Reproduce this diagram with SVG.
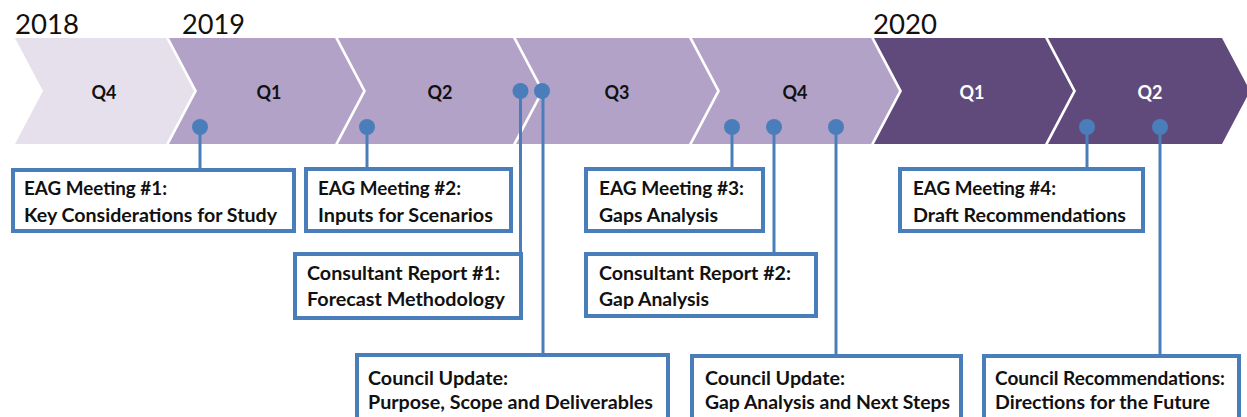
<svg xmlns="http://www.w3.org/2000/svg" width="1247" height="417" viewBox="0 0 1247 417">
<style>
.year{font-family:Lato,"Liberation Sans",sans-serif;font-size:26px;fill:#111}
.q{font-family:Lato,"Liberation Sans",sans-serif;font-size:18px;font-weight:bold;text-anchor:middle}
.qd{fill:#111}
.ql{fill:#fff}
.c18{fill:#E6E0EC}
.c19{fill:#B3A2C7}
.c20{fill:#604A7B}
.box{fill:#fff;stroke:#4A7EBB;stroke-width:4}
.lbl{font-family:Lato,"Liberation Sans",sans-serif;font-size:18.5px;font-weight:bold;fill:#111}
.conn line{stroke:#4A7EBB;stroke-width:3}
.conn circle{fill:#4A7EBB}
</style>
<rect width="1247" height="417" fill="#fff"/>
<g id="timeline">
  <polygon class="c18" points="15,38 166,38 194,91 166,144 15,144 43,91"/>
  <polygon class="c19" points="169,38 335,38 363,91 335,144 169,144 197,91"/>
  <polygon class="c19" points="338,38 513,38 541,91 513,144 338,144 366,91"/>
  <polygon class="c19" points="516,38 689,38 717,91 689,144 516,144 544,91"/>
  <polygon class="c19" points="692,38 871,38 899,91 871,144 692,144 720,91"/>
  <polygon class="c20" points="874,38 1045,38 1073,91 1045,144 874,144 902,91"/>
  <polygon class="c20" points="1048,38 1222,38 1250,91 1222,144 1048,144 1076,91"/>
  <text class="q qd" x="104" y="99">Q4</text>
  <text class="q qd" x="269" y="99">Q1</text>
  <text class="q qd" x="440" y="99">Q2</text>
  <text class="q qd" x="617" y="99">Q3</text>
  <text class="q qd" x="795" y="99">Q4</text>
  <text class="q ql" x="972" y="99">Q1</text>
  <text class="q ql" x="1150" y="99">Q2</text>
</g>
<g id="years">
  <text class="year" x="15" y="34" textLength="64" lengthAdjust="spacingAndGlyphs">2018</text>
  <text class="year" x="182" y="34" textLength="63" lengthAdjust="spacingAndGlyphs">2019</text>
  <text class="year" x="873" y="34" textLength="64" lengthAdjust="spacingAndGlyphs">2020</text>
</g>
<g id="connectors" class="conn">
  <line x1="200" y1="127" x2="200" y2="169"/>
  <line x1="367" y1="127" x2="367" y2="169"/>
  <line x1="520.5" y1="91" x2="520.5" y2="254"/>
  <line x1="543" y1="91" x2="543" y2="355"/>
  <line x1="732" y1="127" x2="732" y2="169"/>
  <line x1="774" y1="127" x2="774" y2="254"/>
  <line x1="836" y1="127" x2="836" y2="357"/>
  <line x1="1087" y1="127" x2="1087" y2="169"/>
  <line x1="1160" y1="127" x2="1160" y2="357"/>
  <circle cx="200" cy="127" r="8"/>
  <circle cx="367" cy="127" r="8"/>
  <circle cx="520.5" cy="91" r="8"/>
  <circle cx="542" cy="91" r="8"/>
  <circle cx="732" cy="127" r="8"/>
  <circle cx="774" cy="127" r="8"/>
  <circle cx="836" cy="127" r="8"/>
  <circle cx="1087" cy="127" r="8"/>
  <circle cx="1160" cy="127" r="8"/>
</g>
<g id="eag1">
  <rect class="box" x="13" y="170" width="281" height="61"/>
  <text class="lbl" x="24" y="195" textLength="143" lengthAdjust="spacingAndGlyphs">EAG Meeting #1:</text>
  <text class="lbl" x="24" y="222" textLength="253" lengthAdjust="spacingAndGlyphs">Key Considerations for Study</text>
</g>
<g id="eag2">
  <rect class="box" x="306" y="169" width="205" height="62"/>
  <text class="lbl" x="318" y="195" textLength="143" lengthAdjust="spacingAndGlyphs">EAG Meeting #2:</text>
  <text class="lbl" x="318" y="222" textLength="175" lengthAdjust="spacingAndGlyphs">Inputs for Scenarios</text>
</g>
<g id="cr1">
  <rect class="box" x="295" y="254" width="226" height="64"/>
  <text class="lbl" x="307" y="280" textLength="193" lengthAdjust="spacingAndGlyphs">Consultant Report #1:</text>
  <text class="lbl" x="307" y="306" textLength="198" lengthAdjust="spacingAndGlyphs">Forecast Methodology</text>
</g>
<g id="cu1">
  <rect class="box" x="357" y="355" width="311" height="80"/>
  <text class="lbl" x="368" y="385" textLength="140" lengthAdjust="spacingAndGlyphs">Council Update:</text>
  <text class="lbl" x="368" y="409" textLength="285" lengthAdjust="spacingAndGlyphs">Purpose, Scope and Deliverables</text>
</g>
<g id="eag3">
  <rect class="box" x="586" y="169" width="177" height="62"/>
  <text class="lbl" x="599" y="195" textLength="145" lengthAdjust="spacingAndGlyphs">EAG Meeting #3:</text>
  <text class="lbl" x="599" y="222" textLength="119" lengthAdjust="spacingAndGlyphs">Gaps Analysis</text>
</g>
<g id="cr2">
  <rect class="box" x="586" y="254" width="230" height="62"/>
  <text class="lbl" x="599" y="280" textLength="192" lengthAdjust="spacingAndGlyphs">Consultant Report #2:</text>
  <text class="lbl" x="599" y="306" textLength="110" lengthAdjust="spacingAndGlyphs">Gap Analysis</text>
</g>
<g id="cu2">
  <rect class="box" x="692" y="356" width="269" height="80"/>
  <text class="lbl" x="705" y="385" textLength="140" lengthAdjust="spacingAndGlyphs">Council Update:</text>
  <text class="lbl" x="705" y="409" textLength="245" lengthAdjust="spacingAndGlyphs">Gap Analysis and Next Steps</text>
</g>
<g id="eag4">
  <rect class="box" x="900" y="169" width="243" height="62"/>
  <text class="lbl" x="913" y="195" textLength="143" lengthAdjust="spacingAndGlyphs">EAG Meeting #4:</text>
  <text class="lbl" x="913" y="222" textLength="213" lengthAdjust="spacingAndGlyphs">Draft Recommendations</text>
</g>
<g id="crec">
  <rect class="box" x="984" y="356" width="255" height="80"/>
  <text class="lbl" x="995" y="385" textLength="230" lengthAdjust="spacingAndGlyphs">Council Recommendations:</text>
  <text class="lbl" x="995" y="409" textLength="215" lengthAdjust="spacingAndGlyphs">Directions for the Future</text>
</g>
</svg>
